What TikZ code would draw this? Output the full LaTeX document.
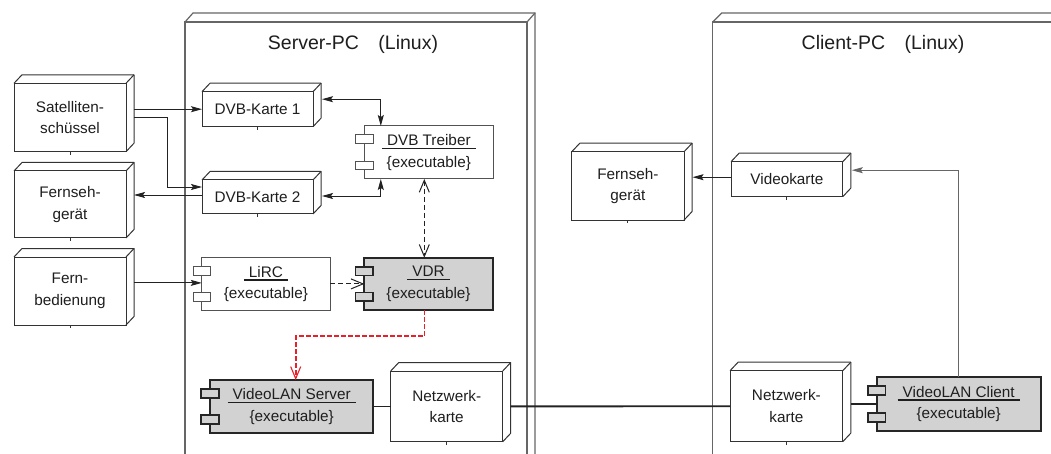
\documentclass[tikz,border=0pt]{standalone}
\usepackage{fontspec}
\setmainfont{Liberation Sans}
\usetikzlibrary{arrows.meta,calc}
\definecolor{boxline}{HTML}{333333}
\definecolor{contline}{HTML}{666666}
\definecolor{exgray}{HTML}{D2D2D2}
\definecolor{wire}{HTML}{222222}
\definecolor{dred}{HTML}{E8202A}
\definecolor{txt}{HTML}{1E1E1E}
\newcommand\ulbl[1]{\setbox0\hbox{#1}\rlap{\kern-5pt\rule[-3.5pt]{\dimexpr\wd0+10pt\relax}{1.6pt}}\box0}
\newcommand\depthfaces[1]{%
  \draw[dev3] (#1.north west) -- ++(8,-8.5) -- ($(#1.north east)+(8,-8.5)$) -- ($(#1.south east)+(8,-8.5)$) -- (#1.south east);
  \draw[dev3] (#1.north east) -- ++(8,-8.5);
  \draw[dev3] (#1.south) -- ++(0,3);}
\newcommand\comprects[2]{%
  \draw[#2] ($(#1.north west)+(-8.75,9)$) rectangle ++(17.5,8.7);
  \draw[#2] ($(#1.south west)+(-8.75,-9)$) rectangle ++(17.5,-8.7);}
\begin{document}
\begin{tikzpicture}[x=1pt,y=-1pt,
  every node/.style={font=\fontsize{15.3pt}{21.5pt}\selectfont, text=txt},
  dev/.style={draw=boxline, line width=1pt, fill=white, align=center, inner sep=0pt, outer sep=0pt},
  dev3/.style={draw=boxline, line width=1pt, line join=round},
  comp/.style={draw=boxline!85, line width=1pt, fill=white, align=center, inner sep=0pt, outer sep=0pt},
  exe/.style={draw=black!85, line width=1.9pt, fill=exgray, align=center, inner sep=0pt, outer sep=0pt},
  crw/.style={draw=boxline!85, line width=1pt, fill=white},
  crg/.style={draw=black!85, line width=1.7pt, fill=exgray},
  title/.style={font=\fontsize{19.5pt}{23pt}\selectfont},
  cont/.style={draw=contline, line width=1.2pt},
  arr/.style={draw=wire, line width=0.9pt, -{Stealth[length=11pt,width=6pt,inset=2pt]}},
  arrboth/.style={draw=wire, line width=0.9pt, {Stealth[length=11pt,width=6pt,inset=2pt]}-{Stealth[length=11pt,width=6pt,inset=2pt]}},
  darr/.style={draw=wire, line width=0.9pt, dash pattern=on 5pt off 3pt, -{Straight Barb[length=12pt,width=10pt,line width=1pt]}},
  darrboth/.style={draw=wire, line width=0.9pt, dash pattern=on 5pt off 3pt, {Straight Barb[length=12pt,width=10pt,line width=1pt]}-{Straight Barb[length=12pt,width=10pt,line width=1pt]}},
  rarr/.style={draw=dred, line width=1.6pt, dash pattern=on 4.5pt off 2.5pt, -{Straight Barb[length=12pt,width=10pt,line width=1.1pt]}},
  link/.style={draw=wire, line width=1.5pt},
  net/.style={draw=wire, line width=1.9pt},
  arrg/.style={draw=contline, line width=1pt, -{Stealth[length=11pt,width=6pt,inset=2pt]}}
]
\useasboundingbox (0,0) rectangle (1051,454);
\clip (0,0) rectangle (1051,454);
\fill[white] (0,0) rectangle (1051,454);

% containers
\draw[cont] (185,470) -- (185,22) -- (527,22) -- (527,470);
\draw[cont] (185,22) -- (193,13) -- (535,13) -- (535,470);
\draw[cont] (527,22) -- (535,13);
\draw[cont] (712.7,470) -- (712.7,22) -- (1060,22);
\draw[cont] (712.7,22) -- (721.7,13) -- (1060,13);
\node[title] (srvt) at (353,44) {Server-PC\quad(Linux)};
\node[title] (clit) at (883,44) {Client-PC\quad(Linux)};

% devices
\node[dev, minimum width=112pt, minimum height=68.4pt] (sat) at (70,117.5) {Satelliten-\\schüssel};
\node[dev, minimum width=112pt, minimum height=67pt] (tv1) at (70,204.5) {Fernseh-\\gerät};
\node[dev, minimum width=112pt, minimum height=68pt] (fb) at (70,291) {Fern-\\bedienung};
\node[dev, minimum width=111pt, minimum height=35pt] (dvb1) at (257.5,109.2) {DVB-Karte 1};
\node[dev, minimum width=111pt, minimum height=34pt] (dvb2) at (257.5,197) {DVB-Karte 2};
\node[dev, minimum width=112pt, minimum height=70.7pt] (nks) at (446.7,406.4) {Netzwerk-\\karte};
\node[dev, minimum width=112.7pt, minimum height=71pt] (nkc) at (786.4,406.2) {Netzwerk-\\karte};
\node[dev, minimum width=111.7pt, minimum height=35pt] (vk) at (786.9,179.2) {Videokarte};
\node[dev, minimum width=112.3pt, minimum height=68.3pt] (tv2) at (627.9,185.9) {Fernseh-\\gerät};
\foreach \n in {sat,tv1,fb,dvb1,dvb2,nks,nkc,vk,tv2}{\depthfaces{\n}}

% components
\node[comp, minimum width=129pt, minimum height=53pt] (drv) at (428.8,152.5) {\ulbl{DVB Treiber}\\\{executable\}};
\node[comp, minimum width=128.3pt, minimum height=52.3pt] (lirc) at (265.9,283.9) {\ulbl{LiRC}\\\{executable\}};
\node[exe, minimum width=128.4pt, minimum height=52.3pt] (vdr) at (428.5,283.9) {\ulbl{VDR}\\\{executable\}};
\node[exe, minimum width=163.3pt, minimum height=52.7pt] (vls) at (291.7,406.4) {\ulbl{VideoLAN Server}\\\{executable\}};
\node[exe, minimum width=164pt, minimum height=53.4pt] (vlc) at (958.7,404) {\ulbl{VideoLAN Client}\\\{executable\}};
\comprects{drv}{crw}
\comprects{lirc}{crw}
\comprects{vdr}{crg}
\comprects{vls}{crg}
\comprects{vlc}{crg}

% connectors
\draw[arr] ($(sat.east |- dvb1.west)+(8,0)$) -- (dvb1.west);
\draw[arr] ($(sat.east)+(8,0)$) -- ++(33,0) |- ($(dvb2.west)+(0,-10)$);
\draw[arr] ($(dvb2.west)+(0,-2)$) -- ($(tv1.east |- dvb2.west)+(8,-2)$);
\draw[arrboth] ($(dvb1.east)+(9,-10)$) -| ($(drv.north west)+(16.5,0)$);
\draw[arrboth] ($(dvb2.east)+(9,-1)$) -| ($(drv.south west)+(16.5,0)$);
\draw[darrboth] ($(drv.south)+(-4.5,0)$) -- ($(vdr.north)+(-4.2,0)$);
\draw[darr] (lirc.east) -- (vdr.west);
\draw[arr] ($(fb.east |- lirc.west)+(8,-1)$) -- ($(lirc.west)+(0,-1)$);
\draw[rarr] ($(vdr.south)+(-4,0)$) -- ++(0,26) -| ($(vls.north)+(4,0)$);
\draw[link] (vls.east) -- (nks.west);
\draw[net] ($(nks.east)+(8,0)$) -- (nkc.west);
\draw[link] ($(nkc.east |- vlc.west)+(8,0)$) -- (vlc.west);
\draw[arrg] (vlc.north) |- ($(vk.east)+(9,-9)$);
\draw[arr] ($(vk.west)+(0,-2)$) -- ($(tv2.east |- vk.west)+(8.5,-2)$);
\end{tikzpicture}
\end{document}
